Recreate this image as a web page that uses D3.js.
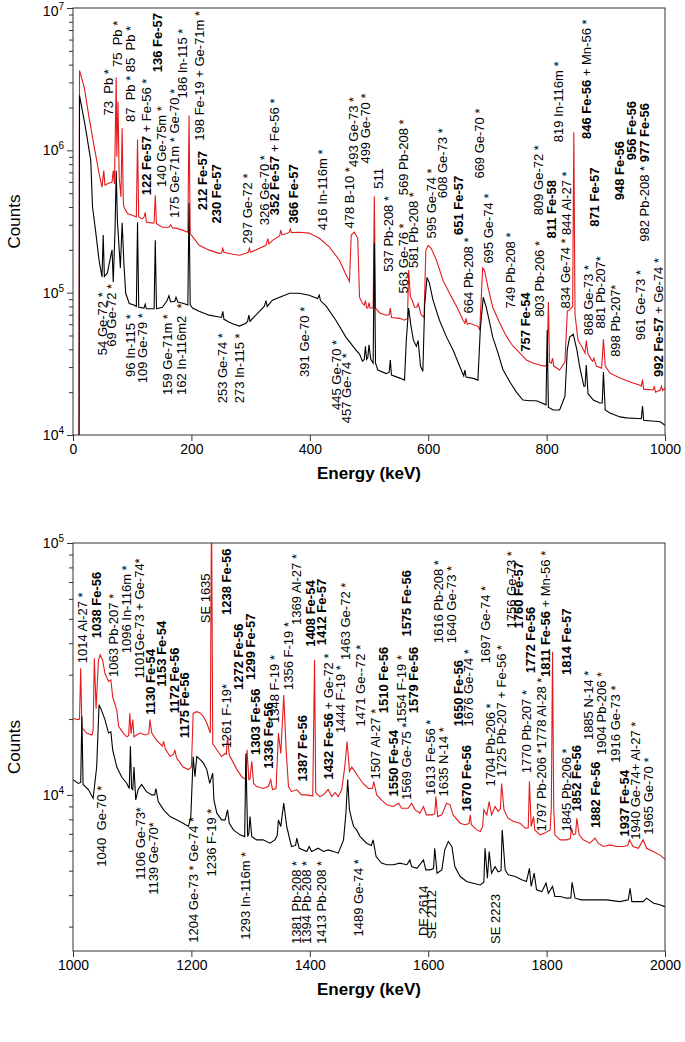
<!DOCTYPE html>
<html><head><meta charset="utf-8">
<script src="https://cdn.jsdelivr.net/npm/d3@7"></script>
<style>body{margin:0;background:#fff}text{font-family:"Liberation Sans",Arial,sans-serif}</style>
</head><body><svg id="c" width="685" height="1042"></svg>
<script>
// ---------- data ----------
const topXTicks=[0,200,400,600,800,1000];
const botXTicks=[1000,1200,1400,1600,1800,2000];
const topYTicks=[1e4,1e5,1e6,1e7];
const botYTicks=[1e4,1e5];

const topRed=[[10,3e3],[11,3.64e6],[19,2.77e6],[27,1.71e6],[36,1.05e6],[44,6.9e5],[49,5.5e5],[52,7.2e5],[54,5.7e5],[61,5.9e5],[66,6.0e5],[68,7.2e5],[70,5.8e5],[73,3.25e6],[74,9e5],[76,2.2e6],[78,6.5e5],[81,4.7e5],[83,1.43e6],[85,4.4e5],[86,4.0e5],[92,3.6e5],[100,3.5e5],[107,3.4e5],[109,1.19e6],[111,3.4e5],[117,3.3e5],[120,3.4e5],[122,3.67e5],[124,3.13e5],[134,3.08e5],[137,3.1e5],[139,4.83e5],[141,3.05e5],[151,2.88e5],[162,2.88e5],[165,3.0e5],[168,2.85e5],[174,2.84e5],[185,2.75e5],[194,2.66e5],[196,1.76e6],[198,2.6e5],[213,2.15e5],[230,1.99e5],[247,1.89e5],[251,1.9e5],[253,2.05e5],[255,1.92e5],[270,1.86e5],[281,1.83e5],[292,1.89e5],[296,1.92e5],[298,2.05e5],[300,1.92e5],[315,2.05e5],[326,2.15e5],[329,2.4e5],[331,2.2e5],[337,2.33e5],[349,2.5e5],[351,2.75e5],[353,2.55e5],[365,2.64e5],[367,2.8e5],[369,2.64e5],[382,2.66e5],[399,2.62e5],[416,2.41e5],[433,2.1e5],[450,1.69e5],[461,1.34e5],[467,1.2e5],[470,2.54e5],[475,2.66e5],[481,2.41e5],[484,9.3e4],[489,8.4e4],[492,8.2e4],[494,8.8e4],[496,7.8e4],[498,7.8e4],[500,8.5e4],[502,7.8e4],[507,7.8e4],[509,4.75e5],[511,7.8e4],[518,7.2e4],[529,6.95e4],[534,7.0e4],[536,7.8e4],[538,6.7e4],[552,6.6e4],[560,6.4e4],[565,6.6e4],[567,1.44e5],[570,9.3e4],[573,8.85e4],[577,7.9e4],[581,7.9e4],[583,8.4e4],[588,7.0e4],[593,6.7e4],[596,1.99e5],[600,2.15e5],[605,2.05e5],[614,1.69e5],[625,1.22e5],[636,9.9e4],[648,8.0e4],[659,6.4e4],[662,6.1e4],[664,6.6e4],[666,6.0e4],[670,6.1e4],[684,5.8e4],[687,5.46e4],[692,1.49e5],[695,1.44e5],[701,1.09e5],[709,7.9e4],[721,6.1e4],[732,4.95e4],[743,4.22e4],[755,3.76e4],[766,3.36e4],[777,3.2e4],[788,3.1e4],[797,3.05e4],[801,3.1e4],[803,8.6e4],[805,3.25e4],[808,3.2e4],[810,3.47e4],[812,3.05e4],[822,2.86e4],[831,3.25e4],[835,7.4e4],[839,7.6e4],[844,8.0e4],[846,1.34e6],[848,7.0e4],[853,4.64e4],[859,4.22e4],[865,3.76e4],[867,4.6e4],[870,3.7e4],[876,3.36e4],[878,3.3e4],[880,3.47e4],[884,3.05e4],[893,2.95e4],[896,4.7e4],[899,3.05e4],[907,2.72e4],[924,2.51e4],[941,2.36e4],[958,2.24e4],[960,2.2e4],[962,2.45e4],[964,2.1e4],[980,2.07e4],[982,2.2e4],[984,2.0e4],[992,2.07e4],[994,2.2e4],[996,2.05e4],[1000,2.14e4]];

const topBlack=[[10,3e3],[11,2.43e6],[21,1.45e6],[30,8.5e5],[33,4.0e5],[38,2.75e5],[44,1.69e5],[49,1.29e5],[51,2.54e5],[53,1.3e5],[58,1.37e5],[64,1.83e5],[66,2.0e5],[68,1.19e5],[71,2.75e5],[73,7.2e5],[75,3.2e5],[80,1.49e5],[83,3.1e5],[86,1.6e5],[89,9.9e4],[95,8.4e4],[103,8.2e4],[107,8.0e4],[109,3.13e5],[111,7.9e4],[120,7.8e4],[122,8.3e4],[124,7.7e4],[137,7.7e4],[139,2.33e5],[141,7.7e4],[151,7.9e4],[159,8.8e4],[162,9.5e4],[165,8.6e4],[172,8.7e4],[174,9.3e4],[177,8.6e4],[187,8.4e4],[194,8.2e4],[196,4.25e5],[198,8.2e4],[202,7.8e4],[213,7.4e4],[230,6.95e4],[251,6.7e4],[253,7.4e4],[255,6.5e4],[264,6.2e4],[272,6.0e4],[281,5.82e4],[292,6.1e4],[295,6.3e4],[297,6.95e4],[299,6.3e4],[315,7.4e4],[323,8.0e4],[326,8.8e4],[328,8.0e4],[337,8.85e4],[349,9.3e4],[366,9.9e4],[382,9.9e4],[399,9.6e4],[413,9.1e4],[416,9.6e4],[418,8.8e4],[428,8.0e4],[444,6.4e4],[461,4.87e4],[478,3.95e4],[484,3.7e4],[489,3.3e4],[492,3.4e4],[494,4.2e4],[496,3.4e4],[498,3.5e4],[500,4.3e4],[503,3.4e4],[507,3.2e4],[509,2.22e5],[511,3.2e4],[515,2.86e4],[529,2.7e4],[534,2.75e4],[536,3.36e4],[538,2.64e4],[552,2.51e4],[560,2.43e4],[563,4.64e4],[567,7.8e4],[571,5.8e4],[575,4.64e4],[580,4.2e4],[583,4.6e4],[587,3.05e4],[591,2.8e4],[594,8.17e4],[598,1.28e5],[602,1.17e5],[608,8.9e4],[619,6.4e4],[631,4.87e4],[642,3.95e4],[653,3.05e4],[660,2.6e4],[662,2.86e4],[664,2.55e4],[676,2.5e4],[684,2.43e4],[688,5.5e4],[693,9.3e4],[698,7.9e4],[704,6.1e4],[709,4.87e4],[718,3.76e4],[726,2.9e4],[738,2.36e4],[749,2.0e4],[760,1.76e4],[772,1.74e4],[783,1.74e4],[799,1.63e4],[801,5.46e4],[803,1.57e4],[811,1.5e4],[822,1.5e4],[831,1.87e4],[835,4.0e4],[839,4.87e4],[845,5.1e4],[851,4.0e4],[856,3.0e4],[863,2.2e4],[865,2.2e4],[867,3.1e4],[870,1.95e4],[879,1.76e4],[890,1.68e4],[894,1.68e4],[896,2.77e4],[899,1.5e4],[907,1.43e4],[924,1.34e4],[935,1.32e4],[960,1.3e4],[962,1.6e4],[964,1.27e4],[992,1.24e4],[1000,1.17e4]];

const botRed=[[1000,2.01e4],[1009,1.99e4],[1011,2.0e4],[1013,3.18e4],[1015,1.85e4],[1023,1.76e4],[1032,1.73e4],[1034,1.8e4],[1036,3.49e4],[1039,2.2e4],[1043,3.43e4],[1046,3.6e4],[1050,3.43e4],[1054,3.04e4],[1060,2.82e4],[1064,2.86e4],[1067,2.45e4],[1074,2.17e4],[1077,1.87e4],[1085,1.76e4],[1091,1.7e4],[1094,1.72e4],[1096,2.11e4],[1098,1.75e4],[1101,1.99e4],[1103,1.7e4],[1113,1.76e4],[1122,1.73e4],[1128,1.75e4],[1130,1.99e4],[1133,1.76e4],[1141,1.65e4],[1151,1.56e4],[1153,1.63e4],[1156,1.52e4],[1164,1.42e4],[1170,1.45e4],[1172,1.51e4],[1175,1.4e4],[1186,1.29e4],[1195,1.26e4],[1200,1.29e4],[1203,2.11e4],[1209,2.14e4],[1215,2.11e4],[1220,2.05e4],[1226,1.93e4],[1232,1.76e4],[1234,1.5e5],[1236,1.6e4],[1243,1.51e4],[1251,1.42e4],[1257,1.46e4],[1259,1.45e4],[1261,1.7e4],[1264,1.44e4],[1271,1.34e4],[1277,1.26e4],[1285,1.18e4],[1292,1.15e4],[1294,1.51e4],[1297,1.15e4],[1299,1.16e4],[1302,1.36e4],[1305,1.11e4],[1310,1.08e4],[1321,1.06e4],[1330,1.08e4],[1334,1.15e4],[1337,1.05e4],[1343,1.06e4],[1347,1.76e4],[1351,1.46e4],[1356,2.49e4],[1360,1.51e4],[1364,1.08e4],[1369,1.03e4],[1378,1.05e4],[1386,1.0e4],[1395,1.0e4],[1405,9.9e3],[1408,3.43e4],[1410,1.02e4],[1417,9.85e3],[1423,1.0e4],[1431,1.05e4],[1437,9.85e3],[1443,1.02e4],[1448,9.85e3],[1454,1.05e4],[1459,1.29e4],[1463,1.63e4],[1467,1.24e4],[1471,1.29e4],[1476,1.24e4],[1482,1.18e4],[1490,1.11e4],[1499,1.06e4],[1506,1.06e4],[1508,1.13e4],[1513,1.0e4],[1521,9.55e3],[1530,9.13e3],[1541,8.99e3],[1550,9.27e3],[1555,8.85e3],[1566,8.85e3],[1572,9.27e3],[1578,8.72e3],[1586,8.46e3],[1592,8.99e3],[1597,8.33e3],[1606,8.33e3],[1611,8.4e3],[1613,9.85e3],[1616,8.2e3],[1623,8.33e3],[1631,9.27e3],[1637,9.13e3],[1642,8.33e3],[1654,7.72e3],[1662,7.61e3],[1669,7.7e3],[1671,8.33e3],[1673,7.61e3],[1682,7.26e3],[1688,7.15e3],[1692,7.5e3],[1694,8.72e3],[1699,8.33e3],[1703,9.4e3],[1707,8.33e3],[1713,8.99e3],[1718,8.6e3],[1722,8.8e3],[1724,1.11e4],[1728,8.72e3],[1735,8.08e3],[1744,7.84e3],[1755,7.72e3],[1764,7.38e3],[1769,7.4e3],[1771,1.13e4],[1774,7.49e3],[1778,8.2e3],[1780,7.26e3],[1789,6.94e3],[1797,7.05e3],[1806,7.26e3],[1808,9e3],[1810,3.7e4],[1812,9e3],[1814,6.94e3],[1823,6.63e3],[1834,6.63e3],[1840,6.7e3],[1842,7.38e3],[1845,6.94e3],[1849,7.0e3],[1851,8.08e3],[1855,6.94e3],[1862,6.63e3],[1873,6.43e3],[1882,6.73e3],[1887,6.43e3],[1896,6.24e3],[1907,6.33e3],[1918,6.24e3],[1929,6.24e3],[1937,6.3e3],[1940,6.63e3],[1946,6.24e3],[1955,6.14e3],[1963,6.63e3],[1969,6.14e3],[1980,5.96e3],[1991,5.78e3],[2000,5.56e3]];

const botBlack=[[1000,1.15e4],[1009,1.11e4],[1013,1.12e4],[1015,2.05e4],[1017,1.1e4],[1026,1.05e4],[1034,9.7e3],[1040,1.29e4],[1044,2.28e4],[1048,2.17e4],[1054,1.99e4],[1060,1.76e4],[1064,1.78e4],[1067,1.51e4],[1074,1.29e4],[1082,1.18e4],[1091,1.11e4],[1095,1.06e4],[1097,1.56e4],[1099,1.06e4],[1101,1.05e4],[1103,1.29e4],[1106,9.55e3],[1110,1.05e4],[1116,1.1e4],[1124,1.03e4],[1133,1.0e4],[1138,1.0e4],[1140,1.06e4],[1144,9.4e3],[1153,8.72e3],[1164,8.2e3],[1175,7.96e3],[1186,7.72e3],[1195,7.49e3],[1199,8.2e3],[1203,1.42e4],[1206,1.18e4],[1209,1.42e4],[1215,1.38e4],[1220,1.34e4],[1226,1.26e4],[1231,1.11e4],[1236,1.22e4],[1238,9.55e3],[1243,8.46e3],[1251,7.96e3],[1257,7.96e3],[1261,8.72e3],[1264,7.72e3],[1271,7.26e3],[1282,6.94e3],[1290,6.83e3],[1292,1.46e4],[1295,6.83e3],[1297,7e3],[1299,8.2e3],[1302,6.83e3],[1310,6.63e3],[1321,6.63e3],[1333,6.43e3],[1341,6.63e3],[1345,6.9e3],[1347,7.96e3],[1351,7.49e3],[1356,9.27e3],[1361,7.49e3],[1369,6.24e3],[1376,6.3e3],[1378,6.73e3],[1382,6.14e3],[1395,5.96e3],[1399,6.24e3],[1403,5.96e3],[1409,6.05e3],[1414,6.14e3],[1423,5.96e3],[1431,6.05e3],[1440,5.96e3],[1448,5.87e3],[1457,6.63e3],[1461,8.46e3],[1464,1.15e4],[1467,8.72e3],[1471,7.96e3],[1474,7.49e3],[1479,7.26e3],[1485,6.83e3],[1496,6.43e3],[1504,6.3e3],[1507,6.63e3],[1512,5.69e3],[1521,5.36e3],[1530,5.28e3],[1541,5.28e3],[1552,5.36e3],[1564,5.28e3],[1569,5.52e3],[1572,5.19e3],[1581,5.11e3],[1592,5.52e3],[1596,5.04e3],[1603,5.04e3],[1609,5.1e3],[1611,6.14e3],[1615,4.89e3],[1623,5.04e3],[1628,6.05e3],[1634,6.53e3],[1640,6.24e3],[1645,5.19e3],[1654,4.74e3],[1665,4.53e3],[1676,4.46e3],[1688,4.39e3],[1694,4.5e3],[1696,6.14e3],[1700,4.67e3],[1703,5.96e3],[1707,4.89e3],[1713,5.19e3],[1718,4.95e3],[1723,5.0e3],[1725,7.26e3],[1730,5.04e3],[1735,4.82e3],[1747,4.74e3],[1758,4.6e3],[1766,4.53e3],[1771,5.11e3],[1774,4.33e3],[1779,4.89e3],[1783,4.2e3],[1792,4.13e3],[1799,4.46e3],[1803,4.07e3],[1810,4.33e3],[1814,3.95e3],[1823,3.95e3],[1834,3.89e3],[1841,3.9e3],[1843,4.5e3],[1848,3.89e3],[1859,3.83e3],[1879,3.83e3],[1901,3.83e3],[1924,3.77e3],[1938,3.83e3],[1941,4.26e3],[1944,3.77e3],[1963,3.77e3],[1969,3.89e3],[1980,3.72e3],[1991,3.66e3],[2000,3.6e3]];

// peak annotations: [text (**bold**), energy position, counts at text start]
const topLabels=[
["73  Pb *",59.7,1.76e6],["75  Pb *",75,3.85e6],["87  Pb * 85  Pb *",97.6,1.58e6],
["**122 Fe-57** + Fe-56 *",124,4.83e5],["**136 Fe-57**",142.6,3.54e6],["140 Ge-75m *",148.4,5.52e5],
["175 Ge-71m * Ge-70 *",170.9,3.34e5],["186 In-115 *",184.9,2.31e6],["198 Fe-19 + Ge-71m *",213.2,1.17e6],
["**212 Fe-57**",218.8,3.79e5],["**230 Fe-57**",241.5,3.06e5],["297 Ge-72 *",294.9,2.21e5],
["326 Ge-70 *",323.2,2.98e5],["**352 Fe-57** + Fe-56 *",340.1,3.5e5],["**366 Fe-57**",372.3,3.06e5],
["416 In-116m *",421.8,2.75e5],["478 B-10 *",467,2.82e5],["493 Ge-73 *",474.3,7.64e5],
["499 Ge-70 *",494,8.07e5],["511",514.9,5.38e5],["537 Pb-208 *",531.8,1.4e5],
["563 Ge-76 *",557.2,9.87e4],["569 Pb-208 *",558.4,4.83e5],["581 Pb-208 *",574.1,1.49e5],
["595 Ge-74 *",605.2,2.4e5],["608 Ge-73 *",623.9,4.6e5],["**651 Fe-57**",650.3,2.54e5],
["664 Pb-208 *",668.4,7.15e4],["669 Ge-70 *",687,6.33e5],["695 Ge-74 *",701,1.6e5],
["749 Pb-208 *",738.9,7.75e4],["**757 Fe-54**",764.8,3.85e4],["803 Pb-206 *",788.5,6.76e4],
["809 Ge-72 *",786.8,3.5e5],["**811 Fe-58**",808.3,2.4e5],["819 In-116m *",820.6,1.14e6],
["834 Ge-74 *",830.8,7.75e4],["844 Al-27 *",833.7,2.54e5],["**846 Fe-56** + Mn-56 *",867.5,1.2e6],
["868 Ge-73 *",870.2,5.03e4],["**871 Fe-57**",880.4,2.9e5],["881 Pb-207*",890,5.61e4],
["898 Pb-207*",915.4,3.54e4],["**948 Fe-56**",922.2,4.46e5],["**956 Fe-56**",943.7,8.51e5],
["982 Pb-208 * **977 Fe-56**",964.5,2.28e5],["961 Ge-73 *",957.7,4.64e4],["**992 Fe-57** + Ge-74 *",988.7,2.56e4],
["54 Ge-72 *",49.6,3.64e4],["69 Ge-72 *",65.5,4.17e4],["96 In-115 *",97.6,2.56e4],
["109 Ge-79 *",117.3,2.31e4],["159 Ge-71m *",159.6,1.91e4],["162 In-116m2  *",182.2,1.91e4],
["253 Ge-74 *",252.6,1.67e4],["273 In-115 *",280.9,1.67e4],["391 Ge-70 *",390.9,2.56e4],
["445 Ge-70 *",444.5,1.5e4],["457 Ge-74 *",462.4,1.21e4]];

const botLabels=[
["1014 Al-27 *",1016.4,3.33e4],["**1038 Fe-56**",1038.9,4.19e4],["1063 Pb-207 *",1068.1,2.94e4],
["1096 In-116m *",1090.7,3.65e4],["1101Ge-73 + Ge-74*",1112,2.9e4],["**1130 Fe-54**",1131.3,2.08e4],
["**1153 Fe-54**",1149.8,2.69e4],["**1172 Fe-56**",1170.6,2.11e4],["**1175 Fe-56**",1187.5,1.68e4],
["SE 1635",1224.2,4.8e4],["**1238 Fe-56**",1258.4,5.18e4],["1261 F-19*",1259.6,1.53e4],
["**1272 Fe-56**",1279.2,2.61e4],["**1299 Fe-57**",1300.2,2.86e4],["**1303 Fe-56**",1307.4,1.44e4],
["**1336 Fe-56**",1330.7,1.27e4],["1348 F-19 *",1340.4,1.93e4],["1356 F-19 *",1363.7,2.61e4],
["1369 Al-27 *",1377.9,4.73e4],["**1387 Fe-56**",1388,1.13e4],["**1408 Fe-54**",1400.3,3.87e4],
["**1412 Fe-57**",1418.9,3.93e4],["**1432 Fe-56** + Ge-72 *",1431.3,1.15e4],["1444 F-19 *",1451,1.76e4],
["1463 Ge-72 *",1459.5,3.43e4],["1471 Ge--72 *",1484.8,1.87e4],["1507 Al-27 *",1510.1,1.15e4],
["**1510 Fe-56**",1524.2,2.11e4],["**1550 Fe-54**",1541,9850],["1554 F-19 *",1555.2,1.93e4],
["1569 Ge-75 *",1563.7,9550],["**1575 Fe-56**",1563.7,4.25e4],["**1579 Fe-56**",1574.8,2.11e4],
["1613 Fe-56 *",1603,1e4],["1616 Pb-208 *",1617.1,4.0e4],["1635 N-14 *",1625.5,9850],
["1640 Ge-73 *",1639.7,4.0e4],["**1650 Fe-56**",1650.8,1.87e4],["**1670 Fe-56**",1665,8590],
["1676 Ge-74 *",1667.7,1.87e4],["1697 Ge-74 *",1696,3.33e4],["1704 Pb-206 *",1704.4,1.08e4],
["1725 Pb-207 + Fe-56 *",1724.2,1.18e4],["1756 Ge-73 *",1741,4.58e4],["**1760 Fe-57**",1752.2,4.58e4],
["1770 Pb-207 *",1766.4,1.22e4],["**1772 Fe-56**",1772,3.04e4],["1797 Pb-206 *1778 Al-28 *",1791.7,7150],
["**1811 Fe-56** + Mn-56 *",1797.3,2.94e4],["**1814 Fe-57**",1832.8,2.99e4],["1845 Pb-206 *",1832.8,7150],
["**1852 Fe-56**",1850.8,8590],["**1882 Fe-56**",1881.8,7380],["1885 N-14 *",1870.4,1.65e4],
["1904 Pb-206 *",1893,1.44e4],["1916 Ge-73 *",1915.5,1.34e4],["**1937 Fe-54**",1930.7,6830],
["1940 Ge-74+ Al-27 *",1949.3,6630],["1965 Ge-70 *",1971.8,6940],
["1040  Ge-70 *",1048.5,5190],["1106 Ge-73*",1113.2,4600],["1139 Ge-70*",1135.6,4010],
["1204 Ge-73 * Ge-74 *",1203.2,2590],["1236 F-19 *",1234.3,4740],["1293 In-116m *",1290.5,2660],
["1381 Pb-208 *",1377.9,2560],["1394 Pb-208 *",1394.8,2560],["1413 Pb-208 *",1420.1,2560],
["1489 Ge-74 *",1482,2740],["DE 2614",1591,2750],["SE 2112",1605,2680],["SE 2223",1713,2560]];

// ---------- drawing ----------
const svg=d3.select("#c");
const L=73,R=665;
const panels=[
 {id:"p1",top:8,bottom:435,xd:[0,1000],yd:[1e4,1e7],xt:topXTicks,yt:topYTicks,red:topRed,black:topBlack,labels:topLabels},
 {id:"p2",top:543,bottom:951,xd:[1000,2000],yd:[2400,1e5],xt:botXTicks,yt:botYTicks,red:botRed,black:botBlack,labels:botLabels}
];
panels.forEach(p=>{
  const x=d3.scaleLinear().domain(p.xd).range([L,R]);
  const y=d3.scaleLog().domain(p.yd).range([p.bottom,p.top]);
  const g=svg.append("g");
  g.append("clipPath").attr("id",p.id+"c").append("rect")
    .attr("x",L).attr("y",p.top).attr("width",R-L).attr("height",p.bottom-p.top);
  const line=d3.line().x(d=>x(d[0])).y(d=>y(d[1]));
  const cg=g.append("g").attr("clip-path",`url(#${p.id}c)`);
  cg.append("path").datum(p.red).attr("d",line).attr("fill","none").attr("stroke","#e41a1c").attr("stroke-width",1.1);
  cg.append("path").datum(p.black).attr("d",line).attr("fill","none").attr("stroke","#000").attr("stroke-width",1.1);
  g.append("rect").attr("x",L).attr("y",p.top).attr("width",R-L).attr("height",p.bottom-p.top)
    .attr("fill","none").attr("stroke","#333").attr("stroke-width",1);
  const xa=g.append("g").attr("transform",`translate(0,${p.bottom})`)
    .call(d3.axisBottom(x).tickValues(p.xt).tickSize(6).tickPadding(3).tickFormat(d3.format("d")));
  xa.select(".domain").remove();
  xa.selectAll("line").attr("stroke","#333");
  xa.selectAll("text").attr("font-size",14).attr("fill","#000").attr("font-family","Liberation Sans, Arial, sans-serif");
  const ya=g.append("g").attr("transform",`translate(${L},0)`)
    .call(d3.axisLeft(y).tickValues(p.yt).tickSize(6).tickFormat(""));
  ya.select(".domain").remove();
  ya.selectAll("line").attr("stroke","#333");
  const minors=y.ticks().filter(v=>!p.yt.includes(v));
  const ym=g.append("g").attr("transform",`translate(${L},0)`)
    .call(d3.axisLeft(y).tickValues(minors).tickSize(4).tickFormat(""));
  ym.select(".domain").remove();
  ym.selectAll("line").attr("stroke","#333");
  p.yt.forEach(v=>{
    const yy=Math.max(y(v)+5,16);
    const t=g.append("text").attr("x",L-9).attr("y",yy).attr("text-anchor","end").attr("font-size",14);
    t.append("tspan").text("10");
    t.append("tspan").text(Math.round(Math.log10(v))).attr("font-size",10).attr("dy",-6);
  });
  g.append("text").attr("transform",`translate(20,${(p.top+p.bottom)/2}) rotate(-90)`)
    .attr("text-anchor","middle").attr("font-size",17).text("Counts");
  g.append("text").attr("x",(L+R)/2).attr("y",p.bottom+44).attr("text-anchor","middle")
    .attr("font-size",17).attr("font-weight","bold").text("Energy (keV)");
  p.labels.forEach(([s,e,c])=>{
    const t=g.append("text").attr("transform",`translate(${x(e)},${y(c)}) rotate(-90)`)
      .attr("dy","0.36em").attr("font-size",13).style("white-space","pre");
    s.split("**").forEach((part,i)=>{ if(part) t.append("tspan").text(part).attr("font-weight",i%2?"bold":"normal"); });
  });
});
</script></body></html>
